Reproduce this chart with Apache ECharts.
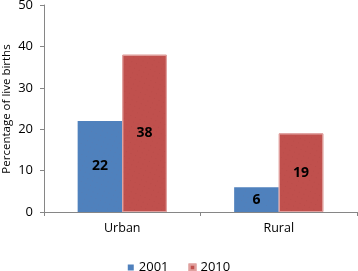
<!DOCTYPE html>
<html>
<head>
<meta charset="utf-8">
<script src="https://cdn.jsdelivr.net/npm/echarts@6/dist/echarts.min.js"></script>
<style>
html,body{margin:0;padding:0;background:#fff;}
#chart{width:358px;height:271px;}
</style>
</head>
<body>
<div id="chart"></div>
<script>
var categories = ['Urban', 'Rural'];
var years = ['2001', '2010'];
var values2001 = [22, 6];
var values2010 = [38, 19];
var yTicks = [0, 10, 20, 30, 40, 50];
var yTitle = 'Percentage of live births';

var font = 'Open Sans';
var myChart = echarts.init(document.getElementById('chart'));
var option = {
    animation: false,
    textStyle: { fontFamily: font },
    grid: { left: 44, right: 1, top: 5, bottom: 59, outerBoundsMode: 'none' },
    // y axis title drawn as rotated text so it sits at the far left like the original
    graphic: [{
        type: 'text',
        x: 7,
        y: 109,
        rotation: Math.PI / 2,
        style: {
            text: yTitle,
            font: '11.5px "Open Sans"',
            fill: '#000',
            align: 'center',
            verticalAlign: 'middle'
        }
    }],
    legend: {
        data: years,
        top: 256,
        left: 'center',
        itemWidth: 6,
        itemHeight: 6,
        itemGap: 20,
        icon: 'rect',
        textStyle: { fontSize: 13, color: '#000', fontFamily: font }
    },
    xAxis: {
        type: 'category',
        data: categories,
        axisLine: { lineStyle: { color: '#868686' } },
        axisTick: { show: true, length: 4, lineStyle: { color: '#868686' } },
        axisLabel: { color: '#000', fontSize: 12.5, margin: 10 }
    },
    yAxis: {
        type: 'value',
        min: yTicks[0],
        max: yTicks[yTicks.length - 1],
        interval: 10,
        axisLine: { show: true, lineStyle: { color: '#868686' } },
        axisTick: { show: true, length: 4, lineStyle: { color: '#868686' } },
        axisLabel: { color: '#000', fontSize: 13, margin: 11 },
        splitLine: { show: false }
    },
    series: [
        {
            name: years[0],
            type: 'bar',
            data: values2001,
            barGap: '0%',
            barCategoryGap: '43%',
            itemStyle: {
                color: '#4F81BD',
                decal: { symbol: 'circle', symbolSize: 0.5, color: 'rgba(192,80,77,0.35)', dashArrayX: [1, 4], dashArrayY: [1, 4], rotation: 0.4 }
            },
            label: { show: true, position: 'inside', color: '#000', fontWeight: 'bold', fontSize: 14 }
        },
        {
            name: years[1],
            type: 'bar',
            data: values2010,
            itemStyle: {
                color: '#C0504D',
                borderColor: '#E0A09E',
                borderWidth: 1,
                decal: { symbol: 'circle', symbolSize: 0.5, color: 'rgba(90,30,30,0.35)', dashArrayX: [1, 4], dashArrayY: [1, 4], rotation: 0.4 }
            },
            label: { show: true, position: 'inside', color: '#000', fontWeight: 'bold', fontSize: 14 }
        }
    ]
};
myChart.setOption(option);
</script>
</body>
</html>
